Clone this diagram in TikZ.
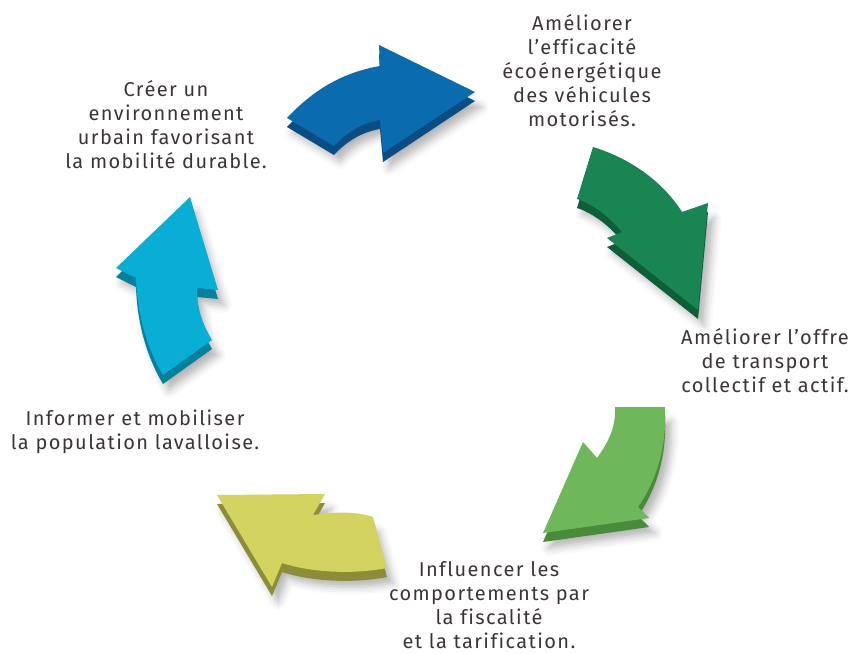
\documentclass[tikz,border=0pt]{standalone}
\usepackage{fontspec}
\setmainfont[LetterSpace=7, Ligatures=NoCommon]{Fira Sans}
\usepackage{tikz}
\usetikzlibrary{shadows.blur}
\definecolor{textcol}{HTML}{3D3535}
\definecolor{bleu}{HTML}{0B6BAF}
\definecolor{bleuside}{HTML}{0A4D82}
\definecolor{vertfonce}{HTML}{188553}
\definecolor{vertfonceside}{HTML}{0E5E37}
\definecolor{vertclair}{HTML}{6EB85B}
\definecolor{vertclairside}{HTML}{4A8A3B}
\definecolor{jaune}{HTML}{D2D45F}
\definecolor{jauneside}{HTML}{8C8D39}
\definecolor{cyan}{HTML}{08AED4}
\definecolor{cyanside}{HTML}{06809B}

\tikzset{etiquette/.style={align=center, inner sep=0pt, anchor=north, text=textcol,
  font=\fontsize{20}{24}\selectfont}}

% slab arrow: dark copy pushed down, then the top face
\newcommand{\fleche}[3]{%
  \fill[#3, shift={(0,9)}, blur shadow={shadow xshift=6pt, shadow yshift=-6pt,
    shadow blur radius=8pt, shadow opacity=30}] #1;
  \fill[#2] #1;
}

\begin{document}
\begin{tikzpicture}[x=1pt,y=-1pt]
\useasboundingbox (0,0) rectangle (856,653);

\fleche{(287,118) .. controls (315,88) and (345,72) .. (380,66) -- (379,45) -- (475,92)
  -- (383,153) -- (380,120) .. controls (362,123) and (347,132) .. (334,146) -- cycle}{bleu}{bleuside}
\fleche{(593,147) .. controls (635,160) and (665,185) .. (682,212) -- (708,203) -- (698,310)
  -- (607,238) -- (622,232) .. controls (610,218) and (595,205) .. (577,199) -- cycle}{vertfonce}{vertfonceside}
\fleche{(615,407) -- (665,407) .. controls (667,445) and (657,480) .. (638,507) -- (649,518)
  -- (543,533) -- (583,442) -- (597,458) .. controls (610,440) and (616,425) .. (615,407) -- cycle}{vertclair}{vertclairside}
\fleche{(217,495) -- (325,494) -- (313,515) .. controls (335,512) and (355,511) .. (373,517)
  -- (387,568) .. controls (350,575) and (310,572) .. (282,563) -- (272,587) -- cycle}{jaune}{jauneside}
\fleche{(190,197) -- (218,290) -- (197,288) .. controls (197,310) and (203,325) .. (212,340)
  -- (163,375) .. controls (145,345) and (137,310) .. (136,278) -- (116,268) -- cycle}{cyan}{cyanside}

\node[etiquette] (efficacite) at (582,14) {Améliorer\\l’efficacité\\écoénergétique\\des véhicules\\motorisés.};
\node[etiquette] (offre) at (765,328) {Améliorer l’offre\\de transport\\collectif et actif.};
\node[etiquette] (fiscalite) at (489,561) {Influencer les\\comportements par\\la fiscalité\\et la tarification.};
\node[etiquette] (population) at (135,410) {Informer et mobiliser\\la population lavalloise.};
\node[etiquette] (urbain) at (166,80) {Créer un\\environnement\\urbain favorisant\\la mobilité durable.};
\end{tikzpicture}
\end{document}
